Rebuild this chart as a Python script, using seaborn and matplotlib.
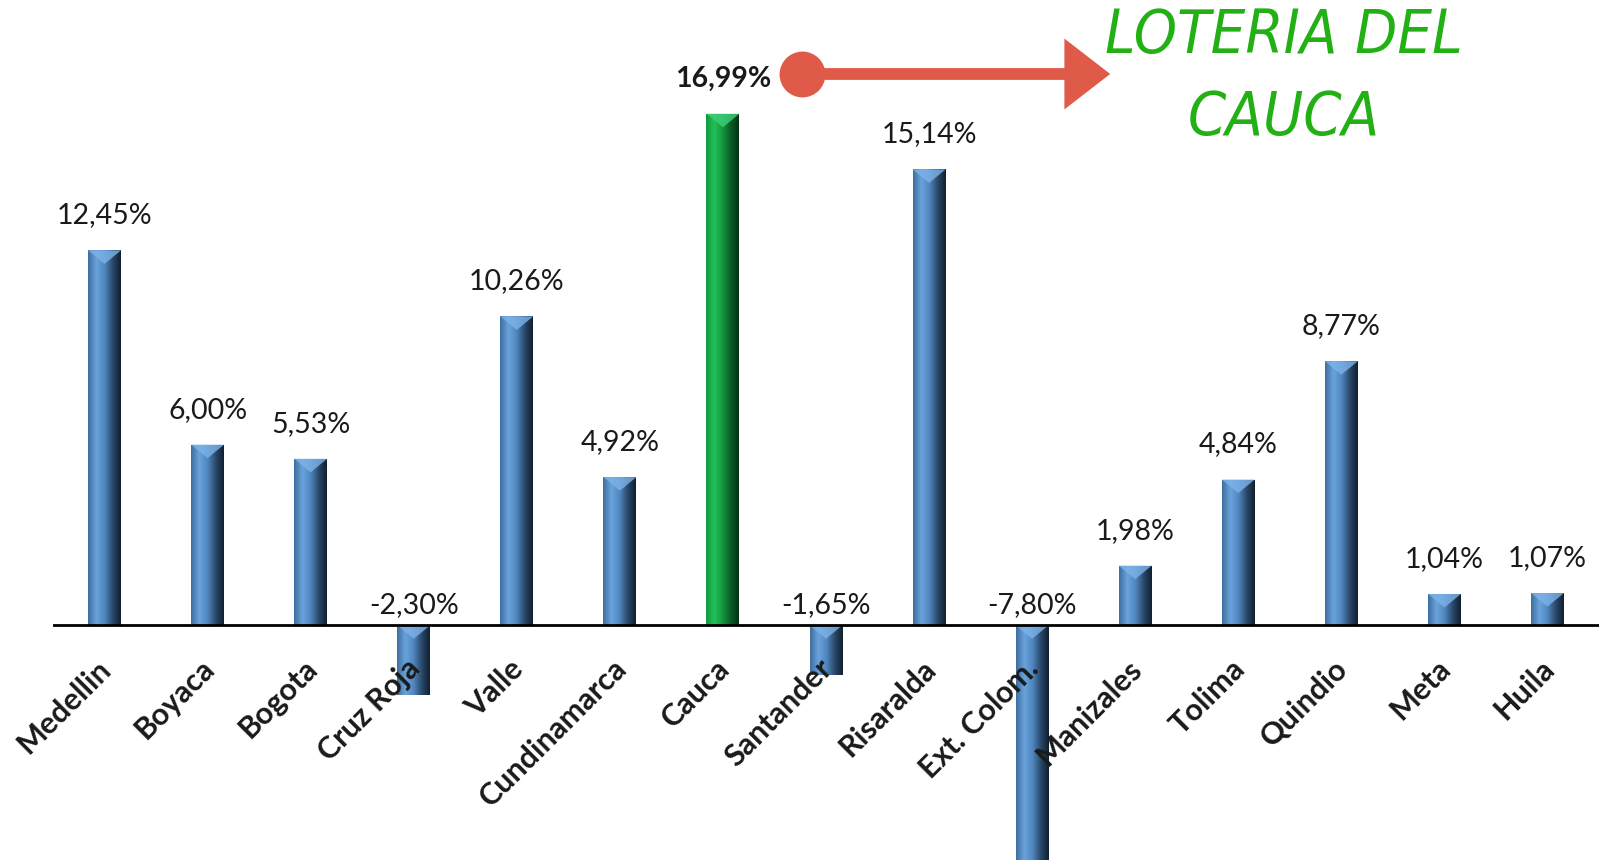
import numpy as np
import pandas as pd
import seaborn as sns
import matplotlib.pyplot as plt
from matplotlib.colors import LinearSegmentedColormap
from matplotlib.patches import FancyArrowPatch
from matplotlib.lines import Line2D

departamentos = ['Medellin', 'Boyaca', 'Bogota', 'Cruz Roja', 'Valle', 'Cundinamarca',
                 'Cauca', 'Santander', 'Risaralda', 'Ext. Colom.', 'Manizales',
                 'Tolima', 'Quindio', 'Meta', 'Huila']
variacion = [12.45, 6.00, 5.53, -2.30, 10.26, 4.92, 16.99, -1.65, 15.14, -7.80,
             1.98, 4.84, 8.77, 1.04, 1.07]
destacado = 'Cauca'

df = pd.DataFrame({'dep': departamentos, 'var': variacion})
colores = {d: ('#1aa84a' if d == destacado else '#4f81bd') for d in departamentos}

sns.set_style('white')
plt.rcParams['font.family'] = ['Lato', 'DejaVu Sans']

fig = plt.figure(figsize=(15.99, 8.62), dpi=100)
ax = fig.add_axes([53 / 1599, 0, 1 - 53 / 1599, 1])

sns.barplot(data=df, x='dep', y='var', hue='dep', palette=colores, width=0.32,
            legend=False, ax=ax, saturation=1)

ax.set_xlim(-0.5, len(departamentos) - 0.5)
ax.set_ylim(-7.83, 20.8)

# gradiente lateral en cada barra (efecto 3D tipo Excel)
azul = LinearSegmentedColormap.from_list('azul', ['#3f6f9f', '#6aa3dc', '#5187c0', '#2a4a6c', '#11202f'])
verde = LinearSegmentedColormap.from_list('verde', ['#129a3c', '#22c05a', '#13973e', '#0a5e26', '#053318'])
grad = np.linspace(0, 1, 64).reshape(1, -1)
bisel = 0.45  # alto del bisel superior, en unidades de datos
for patch, dep in zip(ax.patches, departamentos):
    x0, y0 = patch.get_x(), patch.get_y()
    w, h = patch.get_width(), patch.get_height()
    cmap = verde if dep == destacado else azul
    im = ax.imshow(grad, cmap=cmap, aspect='auto', extent=[x0, x0 + w, y0, y0 + h],
                   zorder=patch.get_zorder() + 0.1)
    im.set_clip_path(patch)
    tope = max(y0, y0 + h)
    ax.fill([x0, x0 + w, x0 + w / 2], [tope, tope, tope - bisel],
            color='#3fd07a' if dep == destacado else '#7db3e8',
            alpha=0.8, lw=0, zorder=patch.get_zorder() + 0.2)

ax.axhline(0, color='black', lw=2, zorder=5)
sns.despine(ax=ax, left=True, bottom=True)
ax.set_yticks([])
ax.set_xticks([])
ax.set_xlabel('')
ax.set_ylabel('')

# etiquetas de valor
for i, (dep, v) in enumerate(zip(departamentos, variacion)):
    txt = f'{v:.2f}%'.replace('.', ',')
    if v >= 0:
        ax.annotate(txt, (i, v), xytext=(0, 36), textcoords='offset pixels',
                    ha='center', va='center', fontsize=20.5,
                    fontweight='bold' if dep == destacado else 'normal', color='#1a1a1a')
    else:
        ax.annotate(txt, (i, 0), xytext=(0, 21), textcoords='offset pixels',
                    ha='center', va='center', fontsize=20.5, color='#1a1a1a')

# nombres de los departamentos, inclinados bajo la linea de cero
for i, dep in enumerate(departamentos):
    ax.annotate(dep, (i, 0), xytext=(2, -38), textcoords='offset pixels',
                rotation=45, rotation_mode='anchor', ha='right', va='center',
                fontsize=22, fontweight='bold', color='#1a1a1a', zorder=6)

# flecha roja
rojo = '#e05a4a'
arrow = FancyArrowPatch((802 / 1599, 1 - 75 / 862), (1113 / 1599, 1 - 75 / 862),
                        transform=fig.transFigure,
                        arrowstyle='simple,head_length=33,head_width=51,tail_width=8.5',
                        mutation_scale=1, color=rojo, lw=0)
fig.add_artist(arrow)
fig.add_artist(Line2D([802 / 1599], [1 - 75 / 862], marker='o', markersize=32,
                      color=rojo, transform=fig.transFigure))

fig.text(1284 / 1599, 1 - 78 / 862, 'LOTERIA DEL\nCAUCA', ha='center', va='center',
         fontsize=44, style='italic', fontstretch='condensed', color='#22b014',
         linespacing=1.5, family=['DejaVu Sans'])

plt.savefig('out.png', dpi=100)
